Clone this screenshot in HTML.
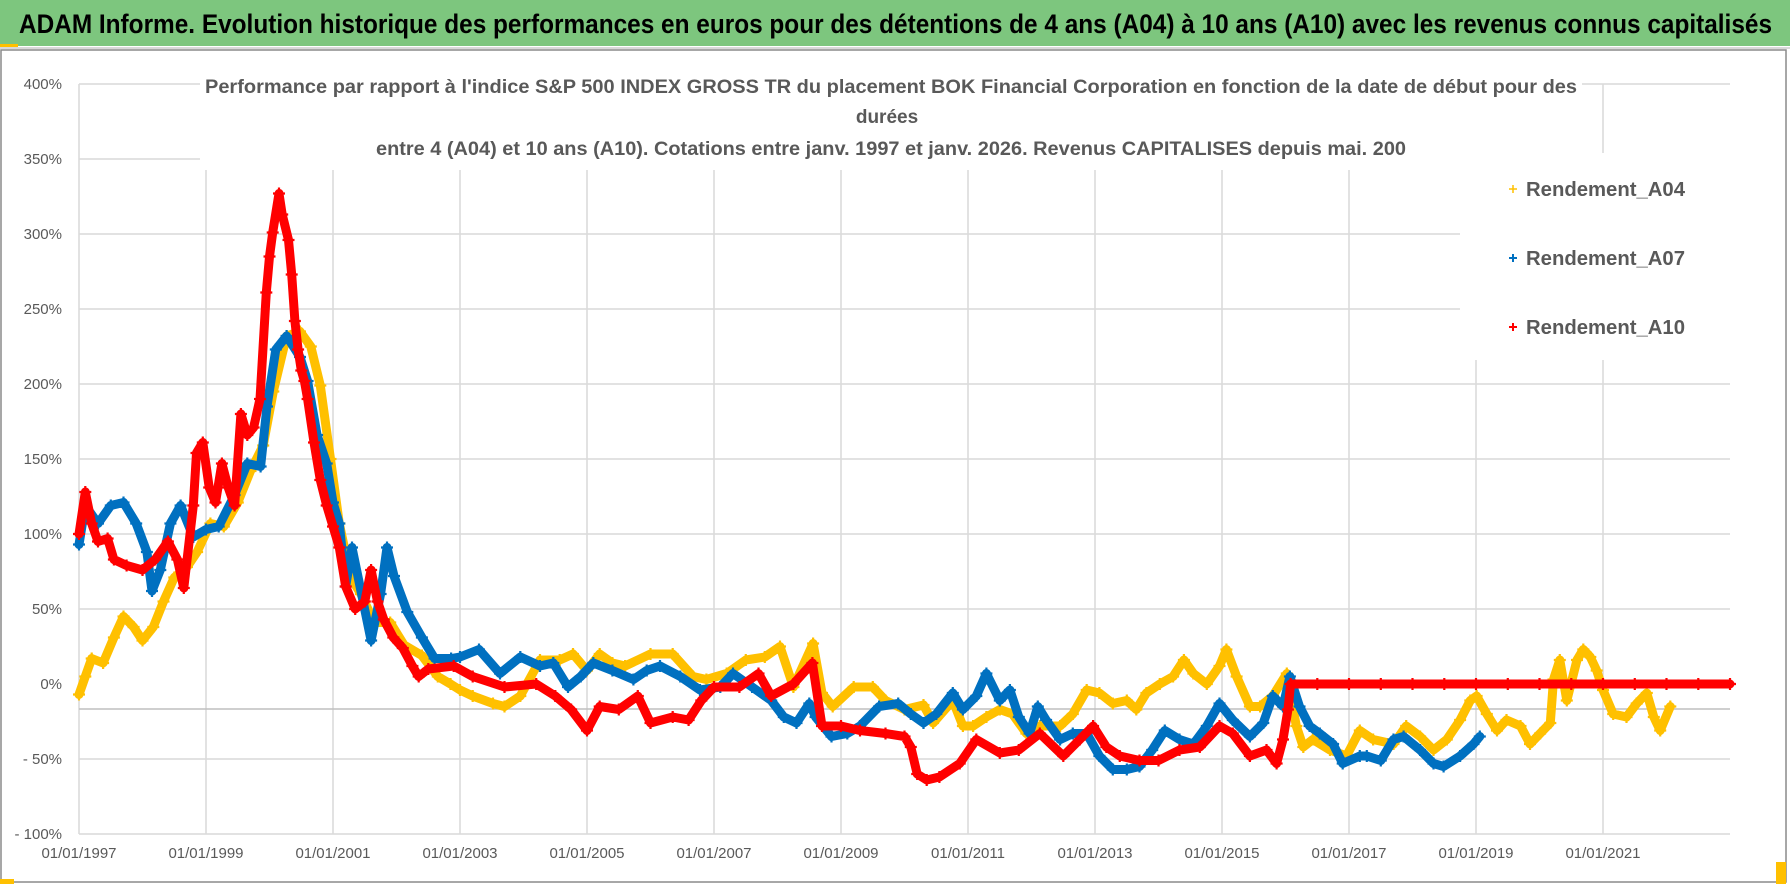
<!DOCTYPE html>
<html><head><meta charset="utf-8"><title>ADAM chart</title>
<style>
html,body{margin:0;padding:0;background:#fff;}
svg{display:block;font-family:"Liberation Sans",sans-serif;}
</style></head>
<body>
<svg id="chart" width="1790" height="886" viewBox="0 0 1790 886">
  <rect x="0" y="0" width="1790" height="886" fill="#fff"/>
  <rect x="0" y="0" width="1790" height="46" fill="#7DC67E"/>
  <rect x="0" y="44" width="18" height="4" fill="#FFC000"/>
  <line x1="0" y1="48" x2="1790" y2="48" stroke="#d9d9d9" stroke-width="2"/>
  <text x="19" y="33" font-size="27" font-weight="bold" fill="#000" textLength="1753" lengthAdjust="spacingAndGlyphs">ADAM Informe. Evolution historique des performances en euros pour des détentions de 4 ans (A04) à 10 ans (A10) avec les revenus connus capitalisés</text>
  <rect x="1" y="50" width="1785" height="832" fill="none" stroke="#8a8a8a" stroke-width="1.5"/>
  <rect x="0" y="879" width="14" height="5" fill="#FFC000"/>
  <rect x="1776" y="862" width="10" height="22" fill="#FFC000"/>
  <g id="grid"></g>
  <g id="ylabels"></g>
  <g id="xlabels"></g>
  <g id="series"></g>
  <rect x="200" y="66" width="1382" height="104" fill="#fff"/>
  <text x="205" y="93" font-size="19" font-weight="bold" fill="#595959" textLength="1372" lengthAdjust="spacingAndGlyphs">Performance par rapport à l'indice S&amp;P 500 INDEX GROSS TR  du placement BOK Financial Corporation en fonction de la date de début pour des</text>
  <text x="887" y="123" font-size="19" font-weight="bold" fill="#595959" text-anchor="middle">durées</text>
  <text x="376" y="155" font-size="19" font-weight="bold" fill="#595959" textLength="1030" lengthAdjust="spacingAndGlyphs">entre 4 (A04) et 10 ans (A10). Cotations entre janv. 1997 et janv. 2026. Revenus CAPITALISES depuis mai. 200</text>
  <rect x="1460" y="153" width="270" height="207" fill="#fff"/>
  <g>
    <path d="M1509 189h8M1513 185v8" stroke="#FFC000" stroke-width="1.5"/>
    <text x="1526" y="196" font-size="20" font-weight="bold" fill="#595959" textLength="159" lengthAdjust="spacingAndGlyphs">Rendement_A04</text>
  </g>
  <g>
    <path d="M1509 258h8M1513 254v8" stroke="#0070C0" stroke-width="2"/>
    <text x="1526" y="265" font-size="20" font-weight="bold" fill="#595959" textLength="159" lengthAdjust="spacingAndGlyphs">Rendement_A07</text>
  </g>
  <g>
    <path d="M1509 327h8M1513 323v8" stroke="#FF0000" stroke-width="2"/>
    <text x="1526" y="334" font-size="20" font-weight="bold" fill="#595959" textLength="159" lengthAdjust="spacingAndGlyphs">Rendement_A10</text>
  </g>
</svg>
<script>
const yTicks = [400,350,300,250,200,150,100,50,0,-50,-100];
const yTickLabels = ["400%","350%","300%","250%","200%","150%","100%","50%","0%","- 50%","- 100%"];
const xTicks = [1997,1999,2001,2003,2005,2007,2009,2011,2013,2015,2017,2019,2021];
const xTickLabels = ["01/01/1997","01/01/1999","01/01/2001","01/01/2003","01/01/2005","01/01/2007","01/01/2009","01/01/2011","01/01/2013","01/01/2015","01/01/2017","01/01/2019","01/01/2021"];
const axisCrossValue = -16.7;

const a04Years = [1997.0,1997.1,1997.2,1997.38,1997.55,1997.7,1997.86,1998.0,1998.17,1998.33,1998.5,1998.7,1998.86,1999.07,1999.28,1999.5,1999.7,1999.9,2000.06,2000.27,2000.48,2000.65,2000.8,2000.96,2001.1,2001.28,2001.44,2001.65,2001.9,2002.12,2002.4,2002.65,2002.85,2003.0,2003.2,2003.52,2003.7,2003.95,2004.26,2004.57,2004.78,2005.0,2005.2,2005.4,2005.6,2006.0,2006.35,2006.67,2006.88,2007.2,2007.5,2007.8,2008.04,2008.25,2008.56,2008.7,2008.87,2009.2,2009.5,2009.7,2010.0,2010.3,2010.45,2010.76,2010.92,2011.08,2011.29,2011.5,2011.7,2011.92,2012.13,2012.45,2012.65,2012.87,2013.07,2013.28,2013.5,2013.65,2013.81,2014.02,2014.23,2014.4,2014.55,2014.76,2014.96,2015.07,2015.23,2015.44,2015.6,2015.8,2016.02,2016.17,2016.28,2016.43,2016.7,2016.96,2017.17,2017.38,2017.7,2017.9,2018.12,2018.33,2018.54,2018.75,2018.91,2019.01,2019.17,2019.33,2019.48,2019.7,2019.85,2020.01,2020.17,2020.22,2020.32,2020.43,2020.59,2020.69,2020.8,2020.9,2021.0,2021.16,2021.37,2021.53,2021.69,2021.8,2021.9,2022.06];
const a04Values = [-7,5,17,14,31,45,38,29,38,55,71,78,88,107,105,121,142,159,195,232,235,225,199,150,107,71,60,41,41,26,19,5,0,-4,-8,-13,-15,-8,16,16,20,9,20,14,12,20,20,5,3,7,16,18,25,-2,27,-6,-15,-2,-2,-11,-17,-14,-26,-11,-28,-28,-22,-17,-20,-33,-28,-28,-20,-4,-6,-13,-11,-17,-6,0,5,16,7,0,12,23,5,-15,-15,-8,7,-28,-42,-37,-44,-48,-31,-37,-40,-28,-35,-44,-37,-24,-11,-8,-20,-31,-24,-28,-40,-33,-26,3,16,-11,16,23,18,9,-4,-20,-22,-13,-6,-22,-31,-15];

const a07Years = [1997.0,1997.1,1997.3,1997.5,1997.7,1997.9,1998.07,1998.15,1998.28,1998.44,1998.6,1998.8,1999.0,1999.2,1999.45,1999.65,1999.86,1999.96,2000.1,2000.27,2000.48,2000.6,2000.75,2000.9,2001.0,2001.1,2001.2,2001.3,2001.6,2001.75,2001.85,2001.96,2002.17,2002.4,2002.6,2002.86,2003.0,2003.3,2003.63,2003.95,2004.26,2004.47,2004.7,2004.9,2005.1,2005.4,2005.73,2005.94,2006.15,2006.47,2006.78,2007.1,2007.3,2007.6,2007.9,2008.1,2008.3,2008.5,2008.6,2008.85,2009.1,2009.3,2009.6,2009.9,2010.1,2010.3,2010.5,2010.76,2010.92,2011.13,2011.29,2011.5,2011.66,2011.8,2011.97,2012.1,2012.23,2012.45,2012.65,2012.87,2013.07,2013.28,2013.5,2013.7,2013.9,2014.1,2014.33,2014.55,2014.76,2014.96,2015.17,2015.44,2015.65,2015.8,2015.96,2016.07,2016.22,2016.38,2016.54,2016.75,2016.9,2017.17,2017.28,2017.5,2017.7,2017.86,2018.12,2018.33,2018.49,2018.75,2018.96,2019.06];
const a07Values = [93,119,107,119,121,107,88,62,76,107,119,98,103,105,126,147,145,185,223,232,218,202,166,147,121,107,65,91,29,60,91,72,48,31,17,17,18,23,7,18,12,14,-2,5,14,9,3,9,12,5,-4,-2,7,-2,-11,-22,-26,-13,-22,-35,-33,-28,-15,-13,-20,-26,-20,-6,-17,-8,7,-11,-4,-22,-33,-15,-24,-37,-33,-33,-48,-57,-57,-55,-44,-31,-37,-40,-28,-13,-24,-35,-26,-8,-15,5,-15,-28,-33,-40,-53,-48,-48,-51,-37,-35,-44,-53,-55,-48,-40,-35];

const a10Years = [1997.0,1997.1,1997.2,1997.3,1997.45,1997.55,1997.75,1998.0,1998.2,1998.4,1998.55,1998.65,1998.8,1998.85,1998.95,1999.05,1999.15,1999.25,1999.35,1999.45,1999.55,1999.65,1999.75,1999.85,1999.95,2000.0,2000.05,2000.15,2000.2,2000.3,2000.35,2000.4,2000.45,2000.5,2000.55,2000.6,2000.7,2000.8,2000.9,2001.0,2001.1,2001.2,2001.35,2001.5,2001.6,2001.7,2001.8,2001.95,2002.1,2002.25,2002.35,2002.5,2002.9,2003.2,2003.7,2004.2,2004.5,2004.75,2005.0,2005.2,2005.5,2005.8,2006.0,2006.35,2006.6,2006.8,2007.0,2007.4,2007.7,2007.9,2008.25,2008.55,2008.7,2009.0,2009.3,2009.7,2010.0,2010.1,2010.2,2010.35,2010.55,2010.87,2011.13,2011.5,2011.8,2012.13,2012.5,2012.76,2012.97,2013.18,2013.39,2013.7,2014.0,2014.33,2014.65,2014.96,2015.17,2015.44,2015.7,2015.86,2015.96,2016.04,2016.08,2016.5,2017.0,2017.5,2018.0,2018.5,2019.0,2019.5,2020.0,2020.5,2021.0,2021.5,2022.0,2022.5,2023.0];
const a10Values = [100,128,107,95,97,83,79,76,83,95,83,64,119,154,161,131,121,147,131,119,180,166,171,190,261,285,301,327,313,296,273,242,223,209,202,190,161,136,119,105,91,65,50,55,76,55,43,31,24,12,5,10,12,5,-2,0,-8,-17,-31,-15,-17,-8,-26,-22,-24,-11,-2,-2,7,-8,0,14,-28,-28,-31,-33,-35,-42,-60,-64,-62,-53,-37,-46,-44,-33,-48,-37,-28,-42,-48,-51,-51,-44,-42,-28,-33,-48,-44,-53,-37,-17,0,0,0,0,0,0,0,0,0,0,0,0,0,0,0];

const NS = "http://www.w3.org/2000/svg";
const X0 = 79, PXY = 63.5, Y0 = 684, PXP = 1.5;
const PLOT_L = 79, PLOT_R = 1730, PLOT_T = 84, PLOT_B = 834;
function xScale(yr){ return X0 + (yr - 1997) * PXY; }
function yScale(v){ return Y0 - v * PXP; }
function mk(tag, attrs, parent){ const e = document.createElementNS(NS, tag); for (const k in attrs) e.setAttribute(k, attrs[k]); parent.appendChild(e); return e; }

const grid = document.getElementById('grid');
yTicks.forEach(function(v){
  if (v === 0) return;
  const l = mk('line', {x1:PLOT_L, x2:PLOT_R, y1:yScale(v), y2:yScale(v), stroke:'#d9d9d9', 'stroke-width':1.5}, grid);
  
  
});
xTicks.forEach(function(t){
  const l = mk('line', {x1:xScale(t), x2:xScale(t), y1:PLOT_T, y2:PLOT_B, stroke:'#d9d9d9', 'stroke-width':1.5}, grid);
  
  
});
const ax = mk('line', {x1:PLOT_L, x2:PLOT_R, y1:yScale(axisCrossValue), y2:yScale(axisCrossValue), stroke:'#bfbfbf', 'stroke-width':1.5}, grid);



const yl = document.getElementById('ylabels');
yTicks.forEach(function(v, i){
  const t = mk('text', {x:62, y:yScale(v)+5, 'font-size':15, fill:'#595959', 'text-anchor':'end'}, yl);
  t.textContent = yTickLabels[i];
  
  
});
const xl = document.getElementById('xlabels');
xTicks.forEach(function(v, i){
  const t = mk('text', {x:xScale(v), y:858, 'font-size':15, fill:'#595959', 'text-anchor':'middle'}, xl);
  t.textContent = xTickLabels[i];
  
  
});

const seriesLayer = document.getElementById('series');
function drawSeries(years, vals, color, name, lw){
  const g = mk('g', {}, seriesLayer);
  
  
  const pts = years.map(function(y, i){ return xScale(y).toFixed(1) + ',' + yScale(vals[i]).toFixed(1); }).join(' ');
  const pl = mk('polyline', {points:pts, fill:'none', stroke:color, 'stroke-width':lw, 'stroke-linejoin':'round', 'stroke-linecap':'round'}, g);
  
  
  let d = '';
  years.forEach(function(y, i){
    const x = xScale(y), yy = yScale(vals[i]);
    d += 'M' + (x-6).toFixed(1) + ' ' + yy.toFixed(1) + 'h12M' + x.toFixed(1) + ' ' + (yy-6).toFixed(1) + 'v12';
  });
  const mp = mk('path', {d:d, stroke:color, 'stroke-width':2.2, fill:'none'}, g);
  
  
}
drawSeries(a04Years, a04Values, '#FFC000', 'series-a04', 9);
drawSeries(a07Years, a07Values, '#0070C0', 'series-a07', 9);
drawSeries(a10Years, a10Values, '#FF0000', 'series-a10', 9);
</script>
</body></html>
